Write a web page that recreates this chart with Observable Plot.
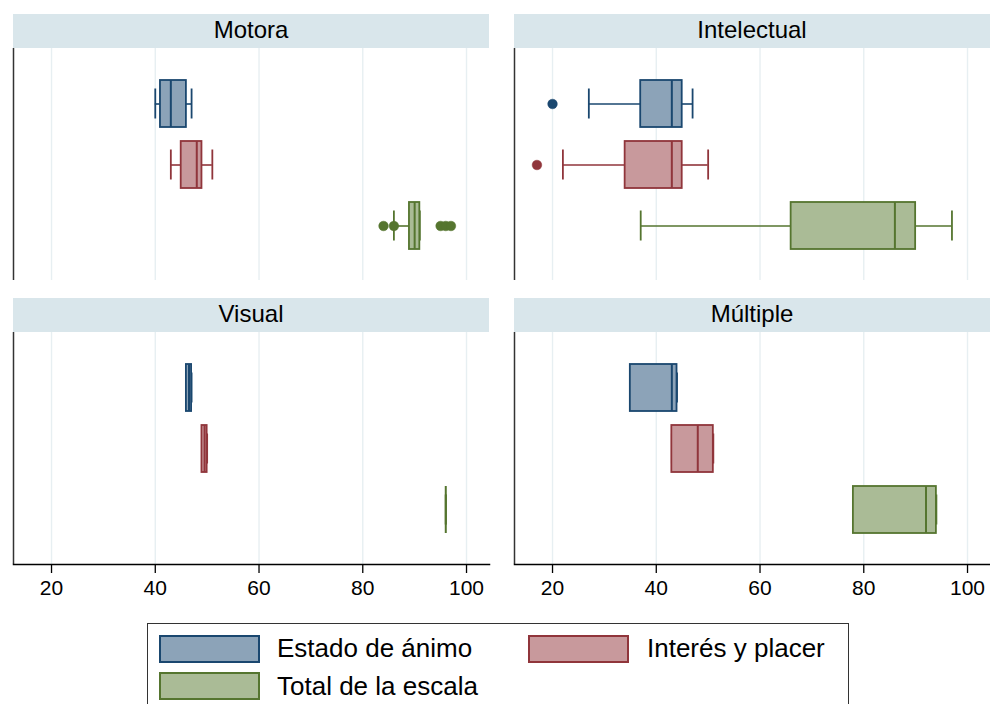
<!DOCTYPE html>
<html>
<head>
<meta charset="utf-8">
<script src="https://cdn.jsdelivr.net/npm/d3@7"></script>
<script src="https://cdn.jsdelivr.net/npm/@observablehq/plot@0.6"></script>
<style>
  body { margin: 0; background: #fff; font-family: "Liberation Sans", Arial, Helvetica, sans-serif; }
  #chart { position: relative; width: 990px; height: 704px; overflow: hidden; background: #fff; }
  .panel { position: absolute; width: 476px; }
  .strip { height: 34px; line-height: 31px; background: #d9e6eb; text-align: center; font-size: 24px; color: #000; }
  .panel svg { display: block; overflow: visible; }
  .legendbox { position: absolute; left: 147px; top: 623px; width: 702px; height: 100px; border: 1.5px solid #333; box-sizing: border-box; }
  .sw { position: absolute; width: 101px; height: 28px; box-sizing: border-box; border: 2px solid; }
  .lt { position: absolute; font-size: 26px; line-height: 26px; white-space: nowrap; color: #000; }
</style>
</head>
<body>
<div id="chart"></div>
<script>
// Panels (disability type) and series
const groups = ["Motora", "Intelectual", "Visual", "Múltiple"];
const series = ["Estado de ánimo", "Interés y placer", "Total de la escala"];

// Box statistics, order: group x series (Motora: E, I, T; Intelectual: E, I, T; ...)
const whiskerLow  = [40, 43, 86,   27, 22, 37,   46,   49,   96,   35, 43, 78];
const quartile1   = [41, 45, 89,   37, 34, 66,   46,   49,   96,   35, 43, 78];
const median      = [43, 48, 90,   43, 43, 86,   46.5, 49.5, 96,   43, 48, 92];
const quartile3   = [46, 49, 91,   45, 45, 90,   47,   50,   96,   44, 51, 94];
const whiskerHigh = [47, 51, 91,   47, 50, 97,   47,   50,   96,   44, 51, 94];

// Outliers
const outlierGroup  = ["Motora", "Motora", "Motora", "Motora", "Motora", "Intelectual", "Intelectual"];
const outlierSeries = ["Total de la escala", "Total de la escala", "Total de la escala", "Total de la escala", "Total de la escala", "Estado de ánimo", "Interés y placer"];
const outlierValue  = [84, 86, 95, 96, 97, 20, 17];

// Axis
const xTicks = [20, 40, 60, 80, 100];
const xDomain = [12.67, 104.43];

// Colours
const strokeColors = ["#1a476f", "#90353b", "#55752f"];
const fillColors   = ["#8ca3b8", "#c8999c", "#aabb96"];

const rows = groups.flatMap((g, gi) => series.map((s, si) => {
  const i = gi * 3 + si;
  return { group: g, series: s, lo: whiskerLow[i], q1: quartile1[i], med: median[i], q3: quartile3[i], hi: whiskerHigh[i] };
}));
const outliers = outlierValue.map((v, i) => ({ group: outlierGroup[i], series: outlierSeries[i], value: v }));

const layout = [
  { left: 13,  top: 14,  bottomAxis: false },
  { left: 514, top: 14,  bottomAxis: false },
  { left: 13,  top: 298, bottomAxis: true },
  { left: 514, top: 298, bottomAxis: true }
];

const chart = document.getElementById("chart");

groups.forEach((g, gi) => {
  const L = layout[gi];
  const panel = document.createElement("div");
  panel.className = "panel";
  panel.style.left = L.left + "px";
  panel.style.top = L.top + "px";
  const strip = document.createElement("div");
  strip.className = "strip";
  strip.textContent = g;
  panel.appendChild(strip);

  const marks = [
    Plot.gridX(xTicks, { stroke: "#e7eff2", strokeOpacity: 1, strokeWidth: 1.4 })
  ];
  series.forEach((s, si) => {
    const data = rows.filter(d => d.group === g && d.series === s);
    const outs = outliers.filter(d => d.group === g && d.series === s);
    const st = strokeColors[si], fl = fillColors[si];
    marks.push(
      Plot.ruleY(data, { y: "series", x1: "lo", x2: "q1", stroke: st, strokeWidth: 1.6 }),
      Plot.ruleY(data, { y: "series", x1: "q3", x2: "hi", stroke: st, strokeWidth: 1.6 }),
      Plot.tickX(data, { y: "series", x: "lo", stroke: st, strokeWidth: 1.8, insetTop: 8.5, insetBottom: 8.5 }),
      Plot.tickX(data, { y: "series", x: "hi", stroke: st, strokeWidth: 1.8, insetTop: 8.5, insetBottom: 8.5 }),
      Plot.barX(data, { y: "series", x1: "q1", x2: "q3", fill: fl, stroke: st, strokeWidth: 1.8 }),
      Plot.tickX(data, { y: "series", x: "med", stroke: st, strokeWidth: 2 }),
      Plot.dot(outs, { y: "series", x: "value", r: 4.8, fill: st, stroke: st, strokeWidth: 0.5 })
    );
  });
  marks.push(Plot.ruleX([xDomain[0]], { stroke: "#333", strokeWidth: 1.5 }));
  if (L.bottomAxis) {
    marks.push(
      Plot.frame({ anchor: "bottom", stroke: "#000", strokeWidth: 1.5 }),
      Plot.axisX(xTicks, { tickSize: 9, tickPadding: 7, stroke: "#000", strokeWidth: 1.3, fill: "#000", fontSize: 21 })
    );
  }

  const svg = Plot.plot({
    width: 476,
    height: L.bottomAxis ? 272 : 232,
    marginLeft: 0,
    marginRight: 0,
    marginTop: 0,
    marginBottom: L.bottomAxis ? 40 : 0,
    style: { fontFamily: "'Liberation Sans', Arial, Helvetica, sans-serif", fontSize: "21px", color: "#000", background: "transparent", overflow: "visible" },
    x: { domain: xDomain, axis: null },
    y: { domain: series, axis: null, paddingInner: 0.236, paddingOuter: 0.504 },
    marks
  });
  panel.appendChild(svg);
  chart.appendChild(panel);
});

// Legend
const legendBox = document.createElement("div");
legendBox.className = "legendbox";
chart.appendChild(legendBox);
const legendPos = [
  { sx: 159, sy: 635, tx: 277, ty: 635 },
  { sx: 528, sy: 635, tx: 647, ty: 635 },
  { sx: 159, sy: 672, tx: 277, ty: 673 }
];
series.forEach((s, si) => {
  const p = legendPos[si];
  const sw = document.createElement("div");
  sw.className = "sw";
  sw.style.left = p.sx + "px";
  sw.style.top = p.sy + "px";
  sw.style.background = fillColors[si];
  sw.style.borderColor = strokeColors[si];
  chart.appendChild(sw);
  const t = document.createElement("div");
  t.className = "lt";
  t.style.left = p.tx + "px";
  t.style.top = p.ty + "px";
  t.textContent = s;
  chart.appendChild(t);
});
</script>
</body>
</html>
